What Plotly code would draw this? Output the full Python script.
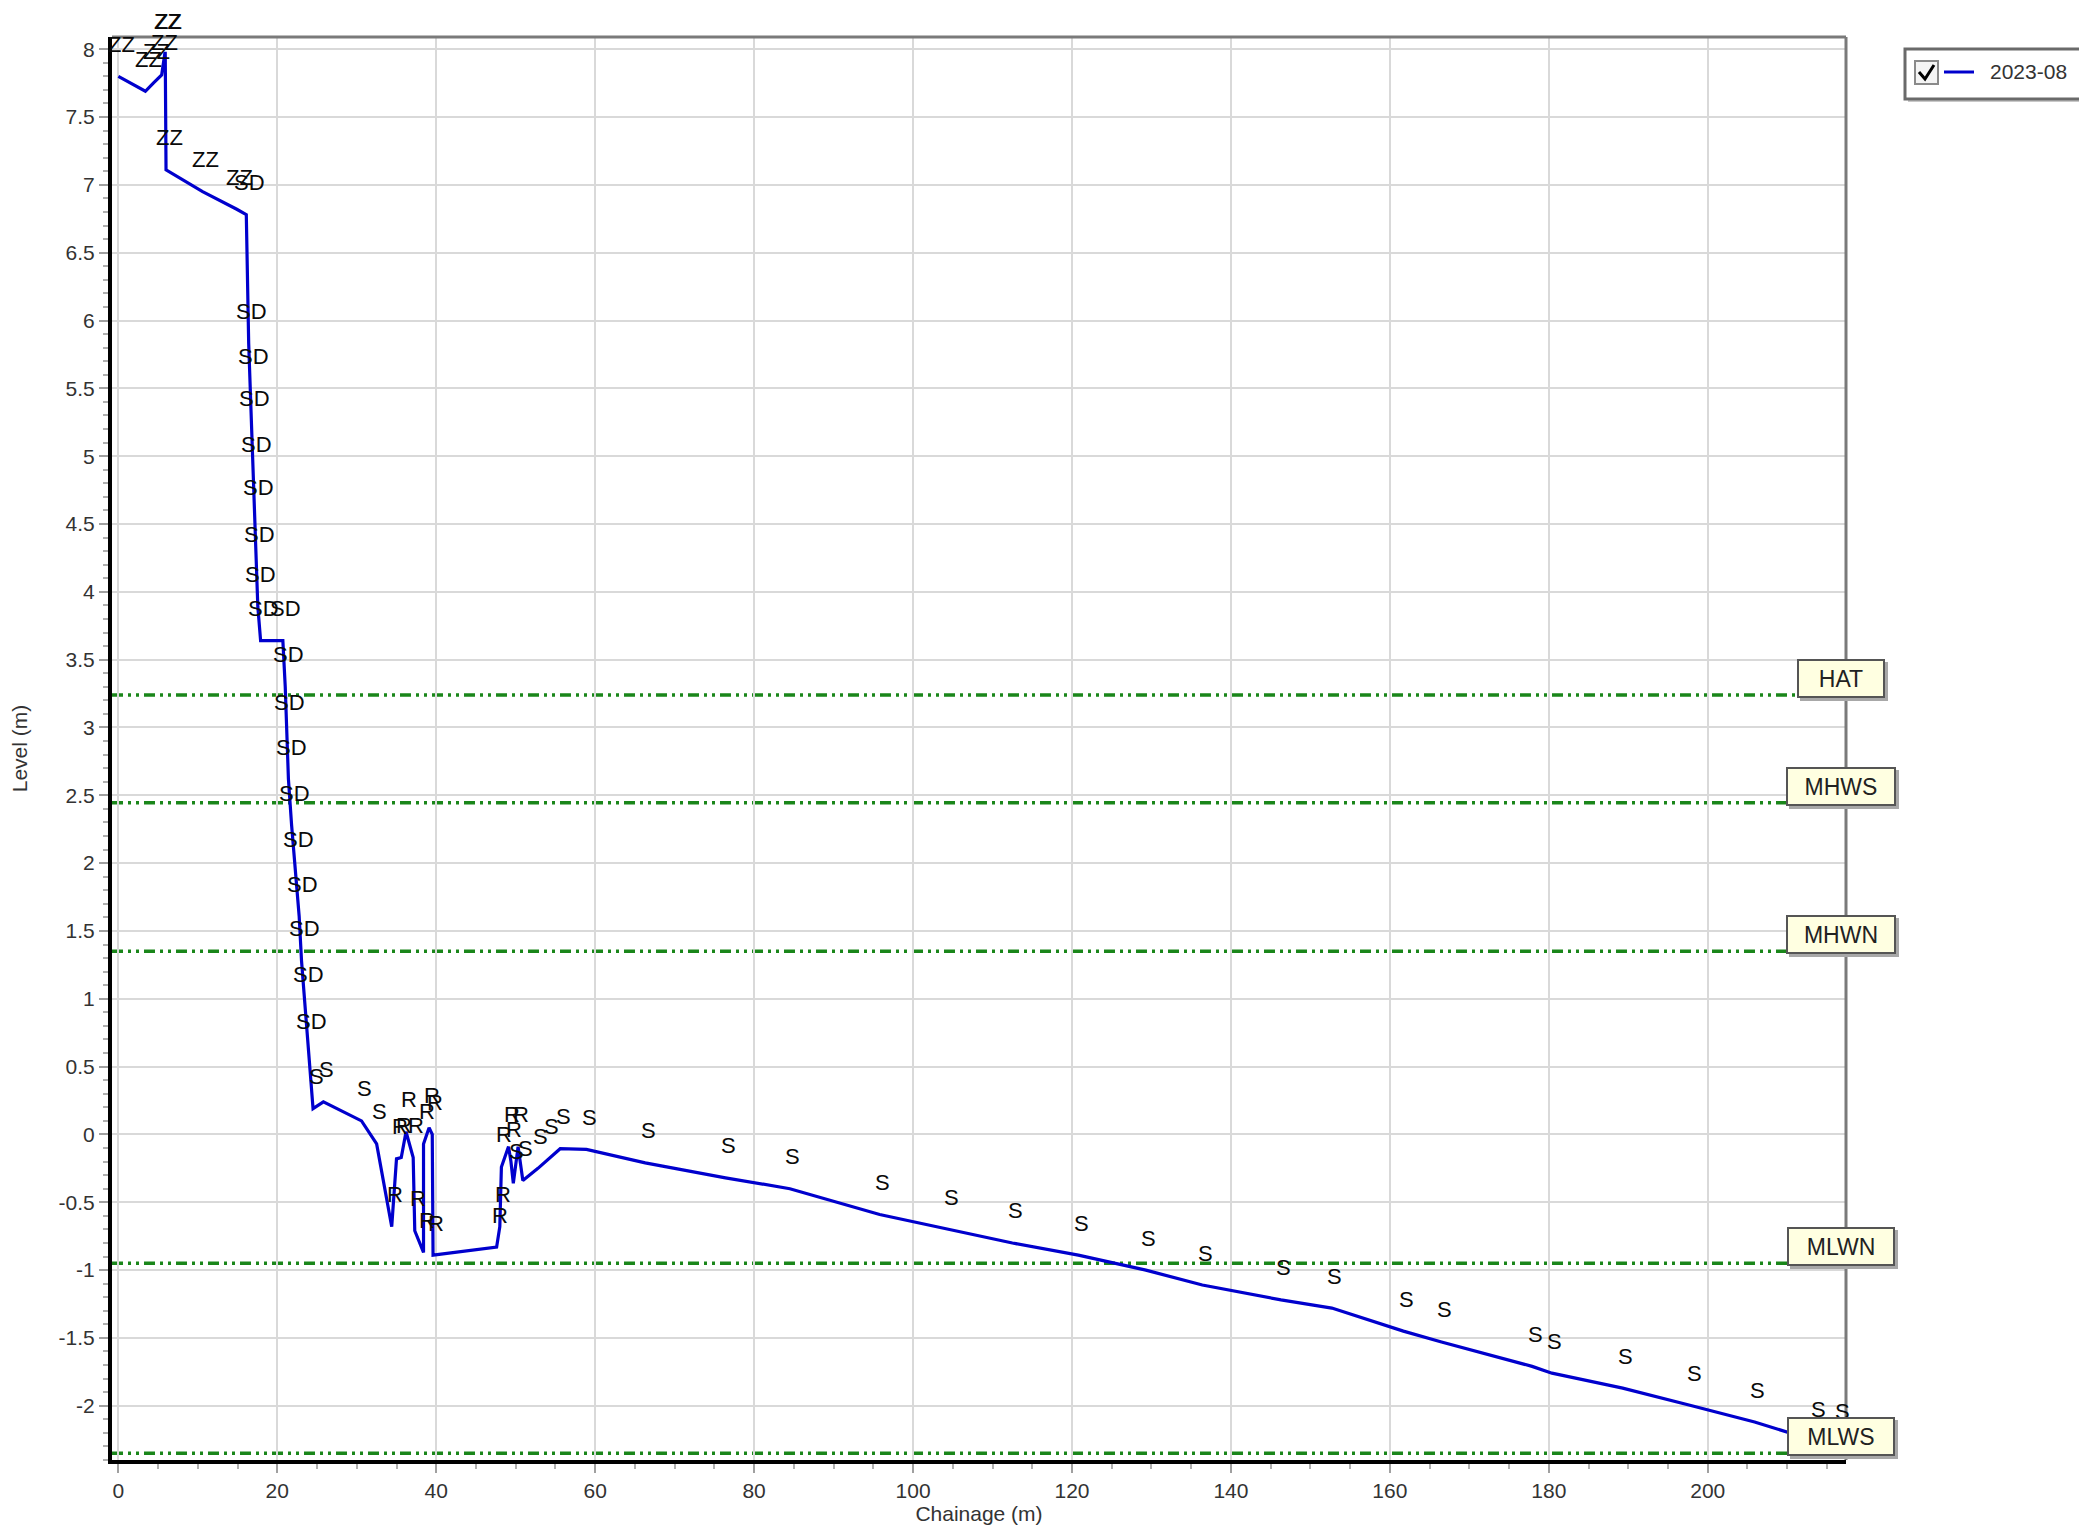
import plotly.graph_objects as go

# ---------------- data ----------------
chainage = [0.0, 3.4, 4.4, 5.45, 5.85, 5.9, 6.0, 10.6, 14.9,
            16.1, 16.4, 16.6, 16.8, 17.0, 17.2, 17.4, 17.55, 17.9, 20.7, 21.0,
            21.2, 21.4, 21.8, 22.3, 22.75, 23.05, 23.5, 23.9,
            24.5, 25.8, 30.6, 32.5,
            34.4, 35.0, 35.6, 36.2, 37.1, 37.3, 38.4, 38.4, 39.1, 39.5, 39.6,
            47.6, 48.0, 48.2, 49.1, 49.4, 49.7, 50.3,
            50.9, 52.8, 54.1, 55.6, 58.9,
            66.3, 76.4, 84.5, 95.8, 104.4, 112.5, 120.8, 129.3, 136.4, 146.3,
            152.7, 161.7, 166.5, 177.9, 180.4, 189.3, 198.0, 205.9, 213.6, 216.6]
level = [7.80, 7.69, 7.75, 7.81, 7.97, 7.97, 7.11, 6.95, 6.82,
         6.78, 5.83, 5.50, 5.19, 4.85, 4.53, 4.19, 3.89, 3.64, 3.64, 3.30,
         2.95, 2.62, 2.28, 1.94, 1.61, 1.28, 0.94, 0.60,
         0.19, 0.24, 0.10, -0.07,
         -0.68, -0.18, -0.17, 0.02, -0.17, -0.71, -0.87, -0.07, 0.05, 0.00, -0.89,
         -0.83, -0.68, -0.24, -0.09, -0.20, -0.36, -0.09,
         -0.34, -0.25, -0.18, -0.105, -0.11,
         -0.21, -0.32, -0.40, -0.59, -0.70, -0.80, -0.89, -1.00, -1.11, -1.22,
         -1.28, -1.45, -1.53, -1.71, -1.76, -1.87, -2.00, -2.12, -2.26, -2.28]
codes = (["ZZ"] * 9 + ["SD"] * 19 + ["S"] * 4 +
         ["R"] * 16 + ["S", "R"] + ["S"] * 5 + ["S"] * 20)

series_name = "2023-08"

tide_names = ["HAT", "MHWS", "MHWN", "MLWN", "MLWS"]
tide_levels = [3.24, 2.445, 1.35, -0.95, -2.35]
tide_box_widths = [78, 100, 100, 98, 98]

x_tick_vals = [0, 20, 40, 60, 80, 100, 120, 140, 160, 180, 200]
x_tick_text = ["0", "20", "40", "60", "80", "100", "120", "140", "160", "180", "200"]
y_tick_vals = [8, 7.5, 7, 6.5, 6, 5.5, 5, 4.5, 4, 3.5, 3, 2.5, 2, 1.5, 1, 0.5, 0,
               -0.5, -1, -1.5, -2]
y_tick_text = ["8", "7.5", "7", "6.5", "6", "5.5", "5", "4.5", "4", "3.5", "3", "2.5",
               "2", "1.5", "1", "0.5", "0", "-0.5", "-1", "-1.5", "-2"]

x_range = [-0.8, 217.4]
y_range = [-2.40, 8.09]

# ---------------- layout geometry (pixels, page coords) ----------------
PAGE_OFF = 8                      # default body margin of the html page
W, H = 2087 - PAGE_OFF, 1528 - PAGE_OFF
L, R, T, B = 112, 1846, 37, 1460  # plot area on the page
PW, PH = R - L, B - T


def px(p):
    return (p - L) / PW


def py(p):
    return (B - p) / PH


FONT = "Liberation Sans, Arial, sans-serif"
BLUE = "#0000CD"
GREEN = "#1A861A"

fig = go.Figure()

fig.add_trace(go.Scatter(
    x=chainage, y=level, mode="lines", name=series_name,
    line=dict(color=BLUE, width=3.2), showlegend=False, hoverinfo="skip"))

shapes = []
annotations = []

# tide level lines
for lv in tide_levels:
    shapes.append(dict(type="line", xref="paper", x0=0, x1=1, yref="y", y0=lv, y1=lv,
                       line=dict(color=GREEN, width=3.5, dash="11px,5px,3px,5px,3px,5px"),
                       layer="between"))

# top / right plot border in gray
shapes.append(dict(type="line", xref="paper", yref="paper", x0=0, x1=1, y0=1, y1=1,
                   line=dict(color="#7a7a7a", width=3)))
shapes.append(dict(type="line", xref="paper", yref="paper", x0=1, x1=1, y0=0, y1=1,
                   line=dict(color="#7a7a7a", width=3)))

# point code labels
for xv, yv, c in zip(chainage, level, codes):
    annotations.append(dict(x=xv, y=yv, xref="x", yref="y", text=c, showarrow=False,
                            xshift=3, yshift=32, font=dict(family=FONT, size=22, color="#0a0a0a")))

# tide label boxes (shadow then box)
for name, lv, wdt in zip(tide_names, tide_levels, tide_box_widths):
    annotations.append(dict(x=1, xref="paper", y=lv, yref="y", text=" ", showarrow=False,
                            xanchor="center", yanchor="bottom", xshift=-2, yshift=-6,
                            width=wdt, height=29, bgcolor="#a8a8a8", bordercolor="#a8a8a8",
                            borderwidth=2, borderpad=3, font=dict(size=20)))
    annotations.append(dict(x=1, xref="paper", y=lv, yref="y", text=name, showarrow=False,
                            xanchor="center", yanchor="bottom", xshift=-5, yshift=-3,
                            width=wdt, height=29, bgcolor="#FFFFE1", bordercolor="#555555",
                            borderwidth=2, borderpad=3,
                            font=dict(family=FONT, size=23, color="#222222")))

# custom legend
shapes.append(dict(type="rect", xref="paper", yref="paper",
                   x0=px(1908), x1=px(2085), y0=py(102), y1=py(52),
                   fillcolor="#c8c8c8", line=dict(width=0)))
shapes.append(dict(type="rect", xref="paper", yref="paper",
                   x0=px(1905), x1=px(2082), y0=py(99), y1=py(49),
                   fillcolor="white", line=dict(color="#6a6a6a", width=3)))
shapes.append(dict(type="rect", xref="paper", yref="paper",
                   x0=px(1915), x1=px(1938), y0=py(84), y1=py(61),
                   fillcolor="#f4f4f4", line=dict(color="#8a8a8a", width=2)))
shapes.append(dict(type="path", xref="paper", yref="paper",
                   path="M %f,%f L %f,%f L %f,%f" % (px(1919), py(72), px(1925), py(79),
                                                  px(1934), py(65)),
                   line=dict(color="black", width=3)))
shapes.append(dict(type="line", xref="paper", yref="paper",
                   x0=px(1944), x1=px(1974), y0=py(72), y1=py(72),
                   line=dict(color=BLUE, width=3)))
annotations.append(dict(x=px(1988), y=py(72), xref="paper", yref="paper", text=series_name,
                        showarrow=False, xanchor="left", yanchor="middle",
                        font=dict(family=FONT, size=21, color="#333333")))

fig.update_layout(
    width=W, height=H,
    margin=dict(l=L - PAGE_OFF, r=W - (R - PAGE_OFF), t=T - PAGE_OFF,
                b=H - (B - PAGE_OFF), autoexpand=False),
    paper_bgcolor="white", plot_bgcolor="white",
    showlegend=False,
    shapes=shapes, annotations=annotations,
    font=dict(family=FONT, size=21, color="#333333"),
)

fig.update_xaxes(
    range=x_range, tickmode="array", tickvals=x_tick_vals, ticktext=x_tick_text,
    automargin=False,
    showgrid=True, gridcolor="#d9d9d9", gridwidth=2, zeroline=False,
    showline=True, linecolor="black", linewidth=4,
    ticks="outside", ticklen=9, tickwidth=2, tickcolor="#a0a0a0",
    tickfont=dict(family=FONT, size=21, color="#333333"),
    minor=dict(dtick=5, tick0=0, ticks="outside", ticklen=5, tickwidth=2,
               tickcolor="#b0b0b0", showgrid=False),
    title=dict(text="Chainage (m)", font=dict(family=FONT, size=21, color="#333333"),
               standoff=2),
)
fig.update_yaxes(
    range=y_range, tickmode="array", tickvals=y_tick_vals, ticktext=y_tick_text,
    automargin=False,
    showgrid=True, gridcolor="#d9d9d9", gridwidth=2, zeroline=False,
    showline=True, linecolor="black", linewidth=4,
    ticks="outside", ticklen=9, tickwidth=2, tickcolor="#a0a0a0",
    tickfont=dict(family=FONT, size=21, color="#333333"),
    minor=dict(dtick=0.1, tick0=0, ticks="outside", ticklen=5, tickwidth=2,
               tickcolor="#b0b0b0", showgrid=False),
    title=dict(text="Level (m)", font=dict(family=FONT, size=21, color="#333333"),
               standoff=28),
)

fig.write_html("out.html")
